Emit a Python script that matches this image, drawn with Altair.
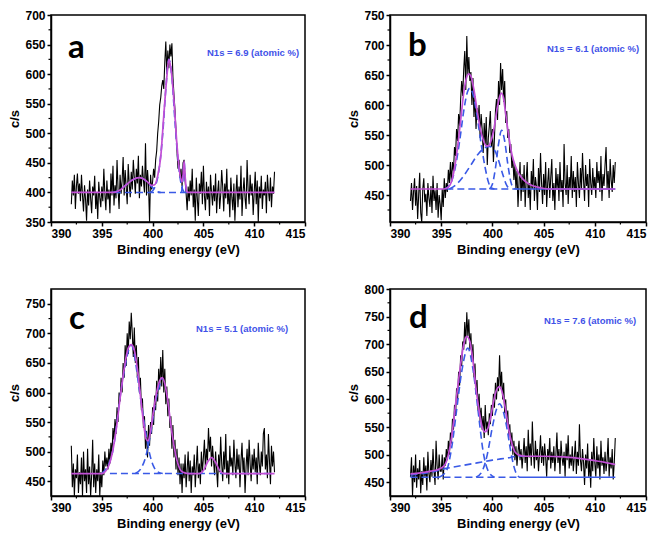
import altair as alt
import pandas as pd
import numpy as np

# ---------------- measured spectra (c/s), 392.0 .. 412.0 eV ----------------
spec_a = [380, 420, 395, 430, 372, 410, 432, 398, 415, 385,
          430, 395, 368, 412, 388, 352, 405, 378, 420, 390,
          365, 410, 395, 428, 372, 400, 355, 418, 392, 375,
          410, 385, 440, 398, 370, 420, 388, 405, 365, 432,
          395, 445, 378, 412, 390, 455, 405, 372, 430, 398,
          420, 460, 395, 438, 410, 380, 448, 415, 392, 435,
          405, 455, 425, 398, 440, 415, 462, 390, 430, 410,
          445, 420, 400, 483, 395, 438, 412, 350, 430, 405,
          418, 440, 425, 455, 470, 500, 520, 548, 560, 580,
          590, 575, 620, 655, 600, 640, 610, 650, 630, 652,
          595, 565, 540, 505, 470, 440, 455, 425, 440, 410,
          450, 455, 420, 398, 370, 410, 385, 420, 395, 440,
          375, 405, 352, 425, 390, 360, 415, 398, 435, 380,
          445, 395, 370, 418, 388, 410, 360, 430, 400, 378,
          412, 385, 432, 365, 400, 420, 372, 395, 438, 410,
          368, 415, 390, 440, 380, 405, 358, 425, 392, 370,
          415, 352, 398, 430, 375, 410, 388, 445, 360, 400,
          425, 390, 372, 455, 405, 380, 430, 395, 415, 362,
          400, 435, 380, 420, 350, 410, 390, 428, 372, 405,
          395, 418, 365, 430, 402, 385, 425, 375, 410, 398,
          435]

spec_b = [440, 470, 425, 455, 478, 432, 465, 410, 450, 487,
          420, 405, 460, 478, 438, 452, 415, 470, 445, 430,
          465, 420, 482, 440, 458, 425, 470, 412, 450, 435,
          408, 460, 430, 478, 445, 470, 455, 492, 470, 505,
          470, 505, 490, 530, 515, 560, 540, 585, 565, 610,
          640, 615, 660, 690, 625, 715, 650, 680, 640, 655,
          600, 645, 580, 615, 560, 595, 575, 600, 545, 585,
          560, 520, 570, 535, 580, 500, 545, 565, 590, 530,
          560, 505, 545, 590, 610, 575, 640, 600, 670, 625,
          660, 605, 640, 570, 590, 545, 560, 520, 535, 495,
          510, 475, 500, 460, 490, 430, 470, 505, 440, 485,
          455, 500, 430, 475, 505, 445, 470, 425, 490, 460,
          510, 440, 480, 465, 425, 495, 455, 520, 470, 435,
          485, 450, 505, 430, 470, 495, 445, 480, 510, 440,
          470, 425, 495, 460, 485, 440, 505, 455, 475, 430,
          535, 470, 450, 500, 435, 480, 460, 515, 445, 490,
          455, 480, 430, 505, 470, 445, 495, 460, 520, 475,
          440, 500, 465, 485, 430, 510, 470, 450, 495, 460,
          480, 445, 505, 470, 490, 455, 515, 440, 485, 465,
          500, 530, 460, 490, 445, 510, 475, 455, 500, 470,
          505]

spec_c = [510, 440, 480, 425, 470, 455, 495, 430, 465, 445,
          490, 425, 500, 450, 470, 430, 505, 445, 475, 425,
          460, 520, 440, 480, 430, 470, 450, 495, 425, 465,
          440, 485, 460, 500, 475, 490, 470, 505, 480, 515,
          495, 540, 520, 555, 530, 575, 550, 600, 585, 625,
          600, 650, 625, 680, 645, 700, 665, 720, 690, 735,
          700, 660, 710, 650, 680, 625, 660, 600, 625, 570,
          590, 540, 560, 505, 535, 490, 545, 510, 550, 530,
          575, 545, 595, 570, 620, 585, 640, 605, 660, 610,
          672, 600, 640, 580, 610, 560, 590, 540, 560, 505,
          545, 490, 520, 470, 505, 460, 490, 445, 480, 430,
          480, 455, 495, 440, 470, 500, 450, 485, 430, 475,
          460, 495, 440, 475, 510, 455, 480, 445, 500, 465,
          490, 520, 470, 505, 485, 540, 500, 525, 475, 510,
          485, 460, 500, 470, 440, 495, 465, 525, 480, 450,
          500, 470, 530, 455, 485, 445, 510, 475, 490, 460,
          520, 480, 455, 505, 470, 495, 440, 485, 515, 465,
          490, 430, 475, 505, 460, 520, 480, 450, 495, 470,
          505, 465, 490, 445, 515, 480, 460, 500, 475, 530,
          540, 470, 495, 455, 530, 485, 445, 510, 475, 500,
          465]

spec_d = [460, 495, 425, 480, 450, 500, 440, 475, 455, 490,
          430, 470, 445, 495, 460, 480, 435, 505, 465, 450,
          490, 460, 510, 470, 445, 525, 480, 455, 500, 470,
          470, 500, 455, 495, 480, 510, 490, 525, 500, 540,
          520, 565, 545, 590, 570, 620, 600, 650, 625, 680,
          660, 705, 690, 740, 700, 758, 715, 745, 690, 720,
          670, 700, 640, 665, 610, 635, 580, 610, 560, 585,
          545, 570, 530, 590, 545, 560, 535, 575, 555, 590,
          570, 610, 585, 630, 600, 640, 615, 680, 620, 650,
          600, 630, 575, 600, 555, 580, 535, 555, 515, 540,
          500, 525, 490, 515, 480, 505, 525, 490, 510, 475,
          500, 530, 485, 515, 470, 545, 495, 520, 480, 560,
          505, 475, 525, 490, 510, 470, 500, 535, 485, 515,
          480, 520, 495, 460, 510, 490, 530, 475, 505, 485,
          515, 470, 500, 540, 485, 510, 465, 525, 495, 480,
          505, 460, 520, 490, 535, 475, 500, 480, 515, 470,
          495, 525, 465, 505, 480, 555, 490, 470, 510, 485,
          445, 500, 475, 520, 460, 490, 440, 505, 470, 530,
          485, 460, 515, 475, 500, 455, 525, 480, 495, 465,
          505, 470, 490, 530, 460, 495, 475, 510, 455, 485,
          530]

# ---------------- fitted envelopes (magenta) ----------------
fit_a_x = [392, 396.2, 396.8, 397.4, 398.0, 398.7, 399.2, 399.6, 399.9, 400.2, 400.5, 400.8, 401.1,
           401.4, 401.6, 401.8, 402.1, 402.4, 402.7, 402.9, 403.0, 403.1, 403.2, 403.35, 403.5, 412]
fit_a_y = [400, 400, 404, 413, 421, 425, 422, 416, 412, 413, 428, 460, 530,
           595, 625, 610, 555, 480, 430, 418, 428, 453, 428, 402, 400, 400]

fit_b_x = [392, 395.3, 395.7, 396.0, 396.3, 396.6, 396.9, 397.2, 397.5, 397.7, 397.9, 398.2, 398.5,
           398.8, 399.1, 399.4, 399.6, 399.9, 400.2, 400.5, 400.8, 400.9, 401.1, 401.3, 401.6, 401.9,
           402.2, 402.6, 403.0, 403.5, 404.0, 404.7, 405.5, 412]
fit_b_y = [460, 460, 463, 472, 495, 530, 575, 620, 647, 652, 648, 625, 592,
           562, 542, 532, 532, 542, 565, 598, 618, 620, 610, 585, 548, 518,
           500, 485, 476, 469, 465, 462, 460, 460]

fit_c_x = [392, 395.0, 395.5, 396.0, 396.4, 396.8, 397.2, 397.6, 397.9, 398.2, 398.5, 398.8, 399.1,
           399.35, 399.55, 399.8, 400.1, 400.4, 400.7, 400.95, 401.2, 401.5, 401.8, 402.1, 402.4,
           402.7, 403.0, 403.5, 404.6, 405.0, 405.4, 405.8, 406.2, 406.6, 407.0, 412]
fit_c_y = [463, 463, 470, 495, 535, 590, 640, 675, 681, 672, 640, 595, 550,
           522, 518, 535, 570, 600, 620, 625, 615, 585, 545, 510, 485,
           470, 465, 463, 463, 468, 482, 490, 482, 468, 463, 463]

fit_d_x = [392, 393, 394, 394.8, 395.3, 395.7, 396.0, 396.4, 396.8, 397.2, 397.5, 397.8, 398.1,
           398.4, 398.7, 399.0, 399.25, 399.5, 399.8, 400.1, 400.4, 400.7, 401.0, 401.3, 401.6,
           401.9, 402.2, 402.6, 403.2, 405, 407, 408.5, 410, 411, 412]
fit_d_y = [465, 467, 470, 474, 480, 500, 530, 590, 650, 700, 714, 705, 670,
           620, 580, 550, 541, 545, 565, 595, 617, 623, 610, 580, 545,
           520, 505, 499, 497, 497, 496, 493, 489, 486, 482]

# ---------------- fitted components (blue) ----------------
comps_a = {
    "base": ([396.2, 403.5], [400, 400]),
    "p1": ([396.0, 396.6, 397.2, 397.8, 398.4, 398.7, 399.1, 399.6, 400.0, 400.4, 400.8],
           [400, 403, 410, 419, 424, 425, 423, 415, 408, 402, 400]),
    "p2": ([399.8, 400.2, 400.6, 401.0, 401.3, 401.6, 401.9, 402.2, 402.5, 402.8, 403.1],
           [400, 408, 435, 500, 575, 625, 595, 520, 455, 415, 400]),
    "p3": ([402.85, 403.0, 403.1, 403.2, 403.35], [400, 425, 453, 425, 400]),
}
comps_b = {
    "base": ([395.5, 402.5], [460, 460]),
    "p1": ([395.3, 395.8, 396.3, 396.8, 397.2, 397.5, 397.8, 398.1, 398.5, 398.9, 399.3, 399.6, 399.9, 400.2],
           [460, 466, 490, 540, 590, 618, 628, 618, 582, 535, 495, 472, 462, 460]),
    "p2": ([395.8, 396.5, 397.2, 397.9, 398.6, 399.2, 399.7, 400.2, 400.6, 401.0, 401.4, 401.7],
           [460, 468, 482, 500, 518, 528, 531, 525, 508, 485, 466, 460]),
    "p3": ([399.7, 400.0, 400.3, 400.6, 400.9, 401.2, 401.5, 401.8, 402.1, 402.3],
           [460, 468, 495, 535, 558, 540, 502, 472, 461, 460]),
}
solid_b = ([402.3, 412], [460, 460])
comps_c = {
    "base": ([395.8, 412], [463, 463]),
    "p1": ([395.0, 396.0, 397.0, 397.9, 398.8, 399.3, 399.7, 400.1, 400.5, 401.0],
           [463, 495, 615, 680, 592, 535, 497, 475, 466, 463]),
    "p2": ([398.3, 398.8, 399.3, 399.8, 400.3, 400.95],
           [463, 470, 490, 530, 585, 625]),
}
comps_d = {
    "low": ([392, 402.6], [459, 459]),
    "step": ([392, 394, 395.5, 397, 398.5, 400, 401.5, 402.5, 403.2],
             [463, 468, 475, 480, 485, 490, 494, 497, 497]),
    "p1": ([394.8, 395.5, 396.0, 396.5, 397.0, 397.6, 398.1, 398.6, 399.1, 399.6, 400.2],
           [459, 470, 510, 580, 650, 693, 655, 580, 505, 470, 459]),
    "p2": ([398.4, 399.0, 399.5, 400.0, 400.4, 400.7, 401.0, 401.4, 401.8, 402.2, 402.6],
           [459, 470, 500, 550, 582, 592, 582, 550, 505, 472, 459]),
}
solid_d = ([402.6, 403.2, 412], [459, 459, 459])

x_ticks = [390, 395, 400, 405, 410, 415]
x_minor = [392.5, 397.5, 402.5, 407.5, 412.5]

BLACK = "#000000"
MAGENTA = "#c24fd6"
BLUE = "#3a5ae6"
TEXTBLUE = "#3f52e8"
FONT = "Liberation Sans"


def panel(spec, fx, fy, comps, solid, ydom, yticks, letter, lpos, note, npos, w, h):
    xs = np.round(np.linspace(392, 412, len(spec)), 2)
    df = pd.DataFrame({"x": xs, "y": spec})
    xsc = alt.Scale(domain=[390, 415], nice=False, zero=False)
    ysc = alt.Scale(domain=ydom, nice=False, zero=False)
    xax = alt.Axis(values=x_ticks, title="Binding energy (eV)", titlePadding=4, labelOverlap=False)
    yax = alt.Axis(values=yticks, title="c/s", titlePadding=3, labelOverlap=False)
    X = lambda: alt.X("x:Q", scale=xsc, axis=xax)
    Y = lambda: alt.Y("y:Q", scale=ysc, axis=yax)

    raw = alt.Chart(df).mark_line(color=BLACK, strokeWidth=1.1, clip=True).encode(x=X(), y=Y())
    rows = []
    for k, (cx, cy) in comps.items():
        for a, b in zip(cx, cy):
            rows.append({"x": a, "y": b, "c": k})
    cdf = pd.DataFrame(rows)
    comp = alt.Chart(cdf).mark_line(color=BLUE, strokeWidth=1.6, strokeDash=[7, 4],
                                    interpolate="monotone", clip=True).encode(
        x=X(), y=Y(), detail="c:N"
    )
    layers = [raw, comp]
    if solid is not None:
        sdf = pd.DataFrame({"x": solid[0], "y": solid[1]})
        layers.append(alt.Chart(sdf).mark_line(color=BLUE, strokeWidth=1.4).encode(x=X(), y=Y()))
    fdf = pd.DataFrame({"x": fx, "y": fy})
    layers.append(alt.Chart(fdf).mark_line(color=MAGENTA, strokeWidth=1.7,
                                           interpolate="monotone", clip=True).encode(x=X(), y=Y()))

    # minor ticks
    yminor = [t + 25 for t in yticks if t + 25 < ydom[1]] + [t - 25 for t in yticks[:1] if t - 25 > ydom[0]]
    ymdf = pd.DataFrame({"y": yminor})
    layers.append(alt.Chart(ymdf).mark_rule(color=BLACK, strokeWidth=1.2).encode(
        y=Y(), x=alt.value(0), x2=alt.value(-2.5)))
    xmdf = pd.DataFrame({"x": x_minor})
    layers.append(alt.Chart(xmdf).mark_rule(color=BLACK, strokeWidth=1.2).encode(
        x=X(), y=alt.value(h), y2=alt.value(h + 2.5)))

    layers.append(alt.Chart(pd.DataFrame({"t": [letter]})).mark_text(
        font="Lato", fontSize=33, fontWeight="bold", color=BLACK, align="left",
        baseline="alphabetic").encode(text="t:N", x=alt.value(lpos[0]), y=alt.value(lpos[1])))
    layers.append(alt.Chart(pd.DataFrame({"t": [note]})).mark_text(
        font=FONT, fontSize=9.5, fontWeight="bold", color=TEXTBLUE, align="left",
        baseline="alphabetic").encode(text="t:N", x=alt.value(npos[0]), y=alt.value(npos[1])))
    return alt.layer(*layers).properties(width=w, height=h)


H = 207
pa = panel(spec_a, fit_a_x, fit_a_y, comps_a, None, [350, 700], [350, 400, 450, 500, 550, 600, 650, 700],
           "a", (17, 43), "N1s = 6.9 (atomic %)", (156, 41), 254, H)
pb = panel(spec_b, fit_b_x, fit_b_y, comps_b, solid_b, [405, 750], [450, 500, 550, 600, 650, 700, 750],
           "b", (18, 41), "N1s = 6.1 (atomic %)", (157, 37), 256, H)
pc = panel(spec_c, fit_c_x, fit_c_y, comps_c, None, [425, 775], [450, 500, 550, 600, 650, 700, 750],
           "c", (18, 40), "N1s = 5.1 (atomic %)", (145, 43), 254, H)
pd_ = panel(spec_d, fit_d_x, fit_d_y, comps_d, solid_d, [425, 800], [450, 500, 550, 600, 650, 700, 750, 800],
            "d", (19, 39), "N1s = 7.6 (atomic %)", (154, 35), 256, H)

top = alt.hconcat(pa, pb, spacing=40)
bottom = alt.hconcat(pc, pd_, spacing=40)
chart = alt.vconcat(top, bottom, spacing=25).properties(
    padding={"left": 0, "top": 0, "right": 0, "bottom": 0}
).configure_view(stroke=BLACK, strokeWidth=1.5).configure_axis(
    labelFont=FONT, labelFontWeight="bold", labelFontSize=12, labelColor=BLACK,
    titleFont=FONT, titleFontWeight="bold", titleFontSize=13, titleColor=BLACK,
    domainColor=BLACK, domainWidth=1.5, tickColor=BLACK, tickWidth=1.5, tickSize=4,
    labelPadding=2, grid=False
)

chart.save("out.html", embed_options={"renderer": "svg", "actions": False})
